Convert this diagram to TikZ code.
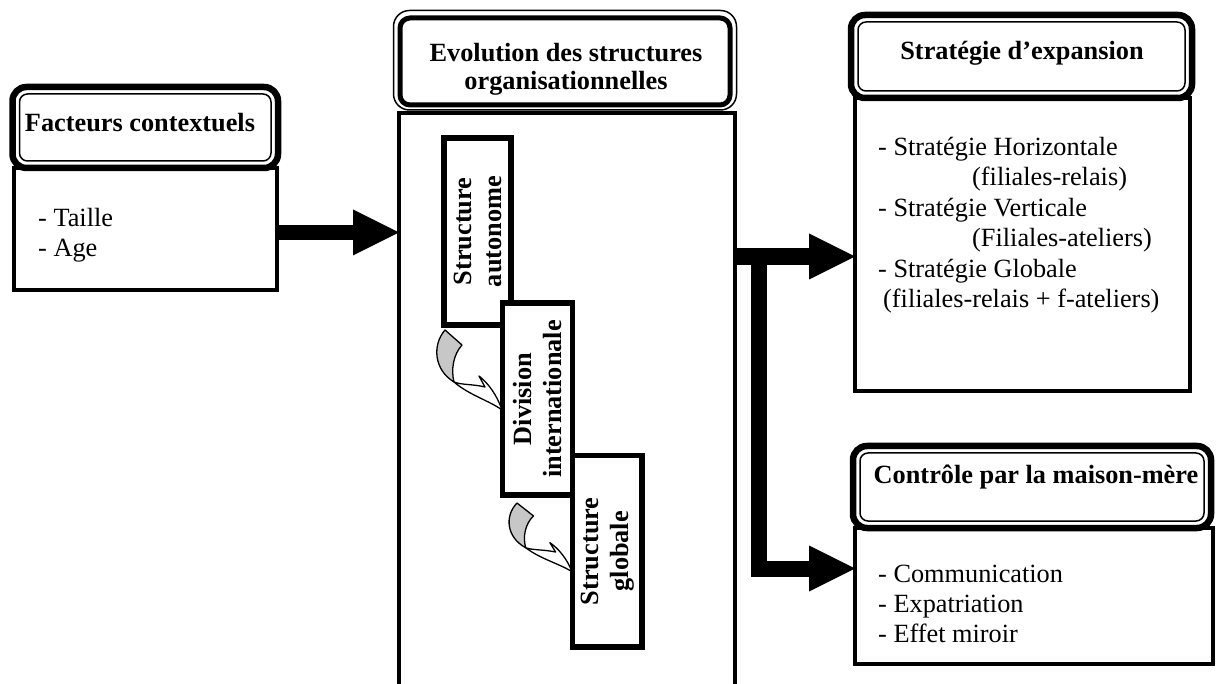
\documentclass[tikz,border=0pt]{standalone}
\usepackage{fontspec}
\setmainfont{Liberation Serif}
\usetikzlibrary{arrows.meta}

\tikzset{
  % twisted ribbon arrow linking two successive structures
  turnarrow/.pic={
    \filldraw[fill=black!22, line width=1.3pt, line join=round]
      (0,0) -- (17,15) .. controls (8,25) and (6,40) .. (9,52)
      .. controls (-11,40) and (-13,15) .. (0,0) -- cycle;
    \filldraw[fill=white, line width=1.3pt, line join=round]
      (9,52) .. controls (24,65) and (45,71) .. (57,80)
      .. controls (52,65) and (43,53) .. (34,46) -- (40,57)
      .. controls (28,54) and (16,55) .. (9,52) -- cycle;
  }
}

\begin{document}
\begin{tikzpicture}[x=1pt, y=-1pt,
  plain/.style={font=\fontsize{26.3}{30}\selectfont, inner sep=0pt},
  heading/.style={font=\fontsize{26.3}{30}\selectfont\bfseries, inner sep=0pt},
  bodybox/.style={draw, line width=4pt, fill=white, anchor=north west,
    inner sep=0pt, outer sep=0pt},
  capbox/.style={draw, line width=6.5pt, fill=white, rounded corners=14pt,
    anchor=north west, inner sep=0pt, outer sep=0pt},
  capline/.style={line width=1.5pt, rounded corners=8pt},
  stagebox/.style={draw, line width=5.5pt, fill=white, inner sep=0pt,
    outer sep=0pt, align=center, rotate=90,
    font=\fontsize{26.3}{30}\selectfont\bfseries},
  bigarrow/.style={-{Triangle[length=46pt, width=46pt, line width=0pt]}},
]
\useasboundingbox (0,0) rectangle (1216,684);
\fill[white] (0,0) rectangle (1216,684);

% ---- box bodies
\node[bodybox, minimum width=263pt, minimum height=122pt] (lbody) at (14,168) {};
\node[bodybox, minimum width=336pt, minimum height=600pt] (mbody) at (399,113) {};
\node[bodybox, minimum width=335pt, minimum height=293pt] (tbody) at (855,98) {};
\node[bodybox, minimum width=358pt, minimum height=136pt] (bbody) at (855,528) {};

% ---- rounded title frames
\node[capbox, minimum width=265.5pt, minimum height=81pt] (lhead) at (12.5,87) {};
\draw[capline] ([shift={(7,7)}]lhead.north west) rectangle ([shift={(-7,-7)}]lhead.south east);

\node[draw, line width=1.5pt, rounded corners=16pt, fill=white, anchor=north west,
  inner sep=0pt, outer sep=0pt, minimum width=343pt, minimum height=99.5pt]
  (mhead) at (393.5,10.5) {};
\draw[line width=5pt, rounded corners=10pt]
  ([shift={(6.5,7.5)}]mhead.north west) rectangle ([shift={(-6.5,-5)}]mhead.south east);

\node[capbox, minimum width=341pt, minimum height=83pt] (thead) at (851,15) {};
\draw[capline] ([shift={(7,7)}]thead.north west) rectangle ([shift={(-7,-7)}]thead.south east);

\node[capbox, minimum width=358pt, minimum height=82pt] (bhead) at (853,446) {};
\draw[capline] ([shift={(7,7)}]bhead.north west) rectangle ([shift={(-7,-7)}]bhead.south east);

% ---- titles
\node[heading, anchor=base] (ltitle) at (140,132) {Facteurs contextuels};
\node[heading, anchor=base] (mtitle1) at (566,62) {Evolution des structures};
\node[heading, anchor=base] (mtitle2) at (566,90) {organisationnelles};
\node[heading, anchor=base] (ttitle) at (1022,60) {Stratégie d’expansion};
\node[heading, anchor=base] (btitle) at (1036,483) {Contrôle par la maison-mère};

% ---- contents
\node[plain, anchor=base west] (l1) at (38,227) {- Taille};
\node[plain, anchor=base west] (l2) at (38,257) {- Age};

\node[plain, anchor=base west] (s1) at (878,156) {- Stratégie Horizontale};
\node[plain, anchor=base west] (s2) at (972,186) {(filiales-relais)};
\node[plain, anchor=base west] (s3) at (878,217) {- Stratégie Verticale};
\node[plain, anchor=base west] (s4) at (972,247) {(Filiales-ateliers)};
\node[plain, anchor=base west] (s5) at (878,278) {- Stratégie Globale};
\node[plain, anchor=base west] (s6) at (883,308) {(filiales-relais + f-ateliers)};

\node[plain, anchor=base west] (c1) at (878,582) {- Communication};
\node[plain, anchor=base west] (c2) at (878,612) {- Expatriation};
\node[plain, anchor=base west] (c3) at (878,642) {- Effet miroir};

% ---- successive structures
\node[stagebox, minimum width=187pt, minimum height=67pt] (sa) at (477.5,231.5) {Structure\\autonome};
\node[stagebox, minimum width=192pt, minimum height=70pt] (sd) at (537.5,399) {Division\\internationale};
\node[stagebox, minimum width=191.5pt, minimum height=69.5pt] (sg) at (607.25,551.25) {Structure\\globale};

\pic at (445,330) {turnarrow};
\pic[xscale=0.965, yscale=0.86] at (517,503) {turnarrow};

% ---- thick connectors
\draw[bigarrow, line width=15pt] (lbody.east |- 0,232.5) -- (mbody.west |- 0,232.5);
\coordinate (fork) at (759,256.5);
\draw[bigarrow, line width=17pt] (mbody.east |- fork) -- (tbody.west |- fork);
\draw[bigarrow, line width=16pt] (fork) |- (bbody.west |- 0,568.5);
\end{tikzpicture}
\end{document}
